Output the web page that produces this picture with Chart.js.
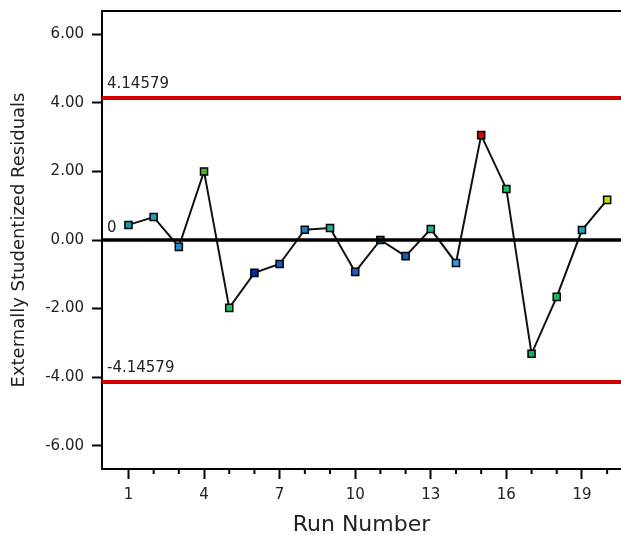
<!DOCTYPE html>
<html>
<head>
<meta charset="utf-8">
<script src="https://cdn.jsdelivr.net/npm/chart.js@4/dist/chart.umd.min.js"></script>
<style>
  html, body { margin: 0; padding: 0; background: #fff; }
  canvas { display: block; }
</style>
</head>
<body>
<canvas id="myChart" width="621" height="538"></canvas>
<script>
const runs = [1, 2, 3, 4, 5, 6, 7, 8, 9, 10, 11, 12, 13, 14, 15, 16, 17, 18, 19, 20]
const residuals = [
    0.44, 0.67, -0.2, 2.0, -1.98, -0.96, -0.7, 0.3, 0.35, -0.93,
    0.0, -0.47, 0.32, -0.67, 3.06, 1.49, -3.32, -1.66, 0.29, 1.17,
]
const pointColors = [
    "#1a9aa8", "#2aa0b8", "#1a8fd0", "#4cb820", "#20c060",
    "#0a2aa0", "#1a5ac0", "#1a80c0", "#20b0a0", "#1a60d0",
    "#106870", "#1a5ab0", "#20b090", "#2aa0e0", "#e00000",
    "#20c060", "#10b060", "#20b070", "#20a0b8", "#c0e000",
]
const yTicks = [-6, -4, -2, 0, 2, 4, 6]
const xLabelRuns = [1, 4, 7, 10, 13, 16, 19]
const upperLimit = 4.14579
const lowerLimit = -4.14579
const centerLine = 0
const limitSpan = [-0.05, 20.55]

const ctx = document.getElementById("myChart").getContext("2d")

// Top border, limit labels and short minor ticks on the run axis
const decorations = {
    id: "decorations",
    afterDraw(chart) {
        const { ctx, chartArea, scales } = chart
        const x = scales.x
        const y = scales.y
        ctx.save()
        ctx.strokeStyle = "#000"
        ctx.lineWidth = 2
        ctx.beginPath()
        ctx.moveTo(chartArea.left, chartArea.top)
        ctx.lineTo(chartArea.right, chartArea.top)
        ctx.stroke()

        runs.forEach((r) => {
            if (xLabelRuns.includes(r)) return
            const px = x.getPixelForValue(r)
            ctx.beginPath()
            ctx.moveTo(px, chartArea.bottom)
            ctx.lineTo(px, chartArea.bottom + 5)
            ctx.stroke()
        })

        ctx.fillStyle = "#222"
        ctx.font = "15px 'DejaVu Sans'"
        ctx.textAlign = "left"
        ctx.textBaseline = "alphabetic"
        ctx.fillText(String(upperLimit), chartArea.left + 5, y.getPixelForValue(upperLimit) - 10)
        ctx.fillText(String(lowerLimit), chartArea.left + 5, y.getPixelForValue(lowerLimit) - 10)
        ctx.fillText(String(centerLine), chartArea.left + 5, y.getPixelForValue(centerLine) - 8)
        ctx.restore()
    },
}

function flatLine(value) {
    return limitSpan.map((x) => ({ x: x, y: value }))
}

new Chart(ctx, {
    type: "scatter",
    data: {
        datasets: [
            {
                data: flatLine(upperLimit),
                showLine: true,
                borderColor: "#d40000",
                borderWidth: 4,
                pointRadius: 0,
            },
            {
                data: flatLine(lowerLimit),
                showLine: true,
                borderColor: "#d40000",
                borderWidth: 4,
                pointRadius: 0,
            },
            {
                data: flatLine(centerLine),
                showLine: true,
                borderColor: "#000",
                borderWidth: 3.5,
                pointRadius: 0,
            },
            {
                data: runs.map((r, i) => ({ x: r, y: residuals[i] })),
                showLine: true,
                borderColor: "#111",
                borderWidth: 2,
                pointStyle: "rect",
                pointRadius: 5,
                pointBackgroundColor: pointColors,
                pointBorderColor: "#000",
                pointBorderWidth: 1.5,
            },
        ],
    },
    options: {
        responsive: false,
        animation: false,
        layout: { autoPadding: false, padding: { top: 11, left: 0, right: 0, bottom: 0 } },
        plugins: {
            legend: { display: false },
            tooltip: { enabled: false },
        },
        scales: {
            x: {
                type: "linear",
                min: -0.05,
                max: 20.55,
                afterFit: (scale) => {
                    scale.height = 69
                    scale.paddingLeft = 0
                    scale.paddingRight = 0
                },
                afterBuildTicks: (scale) => {
                    scale.ticks = xLabelRuns.map((v) => ({ value: v }))
                },
                ticks: {
                    color: "#222",
                    font: { family: "DejaVu Sans", size: 15 },
                    padding: 7,
                    maxRotation: 0,
                    callback: (v) => String(v),
                },
                grid: {
                    drawOnChartArea: false,
                    tickLength: 10,
                    tickWidth: 2,
                    tickColor: "#000",
                },
                border: { color: "#000", width: 2 },
                title: {
                    display: true,
                    text: "Run Number",
                    color: "#222",
                    font: { family: "DejaVu Sans", size: 22 },
                    padding: { top: 0, bottom: 0 },
                },
            },
            y: {
                min: -6.68,
                max: 6.68,
                afterFit: (scale) => {
                    scale.width = 102
                    scale.paddingTop = 0
                    scale.paddingBottom = 0
                },
                afterBuildTicks: (scale) => {
                    scale.ticks = yTicks.map((v) => ({ value: v }))
                },
                ticks: {
                    color: "#222",
                    font: { family: "DejaVu Sans", size: 15 },
                    padding: 8,
                    callback: (v) => v.toFixed(2),
                },
                grid: {
                    drawOnChartArea: false,
                    tickLength: 10,
                    tickWidth: 2,
                    tickColor: "#000",
                },
                border: { color: "#000", width: 2 },
                title: {
                    display: true,
                    text: "Externally Studentized Residuals",
                    color: "#222",
                    font: { family: "DejaVu Sans", size: 18 },
                    padding: { top: 9, bottom: 0 },
                },
            },
        },
    },
    plugins: [decorations],
})
</script>
</body>
</html>
